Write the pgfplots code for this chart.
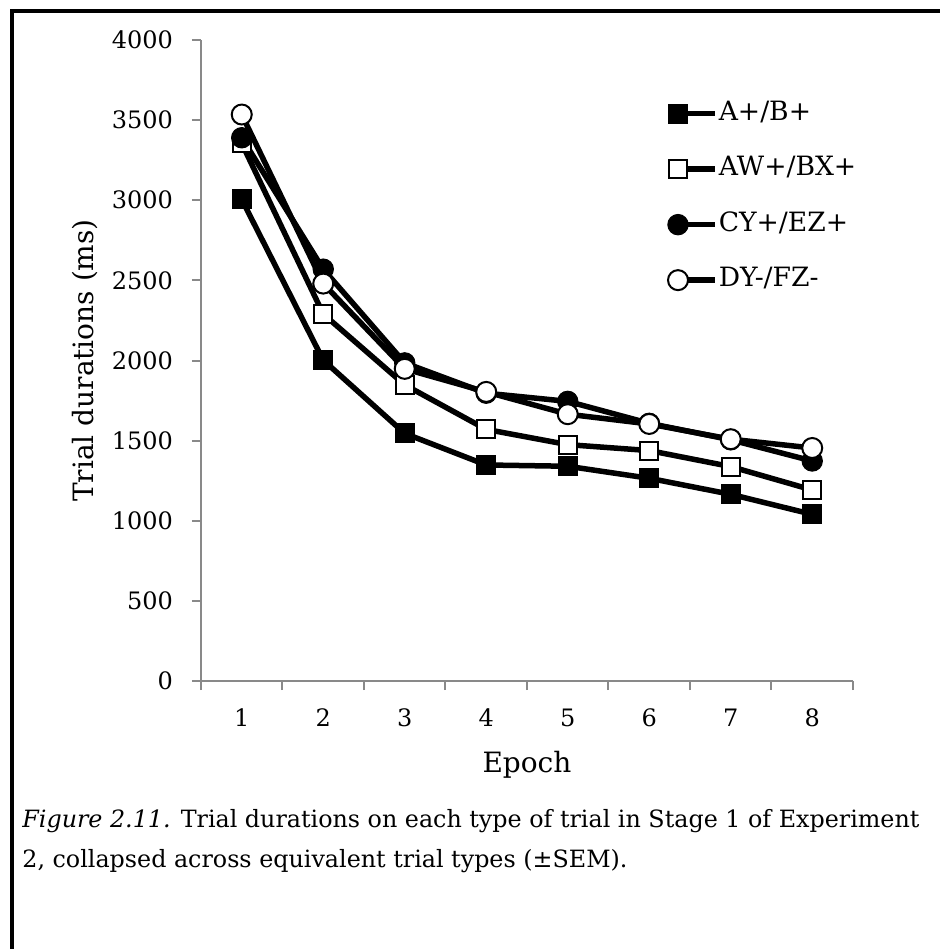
\documentclass[border=0pt]{standalone}
\usepackage{fontspec}
\setmainfont{DejaVu Serif}
\usepackage{pgfplots}
\pgfplotsset{compat=1.18}
\definecolor{axgray}{HTML}{898989}
\pgfplotstableread{
x  ab    awbx  cyez  dyfz
1  3005  3355  3390  3535
2  2002  2290  2570  2480
3  1545  1848  1985  1948
4  1348  1570  1796  1804
5  1340  1475  1745  1665
6  1265  1438  1608  1604
7  1165  1338  1505  1509
8  1040  1192  1373  1454
}\datatable
\begin{document}
\begin{tikzpicture}
\useasboundingbox (0pt,0pt) rectangle (470pt,474.5pt);
\draw[line width=2pt, line join=miter] (6pt,0pt) -- (6pt,468.75pt) -- (470pt,468.75pt);
\begin{axis}[
  at={(100.5pt,134pt)}, anchor=south west,
  scale only axis, width=326pt, height=320.5pt,
  xmin=0.5, xmax=8.5, ymin=0, ymax=4000,
  axis x line*=bottom, axis y line*=left,
  axis line style={axgray, line width=1pt},
  xtick={1,...,8}, ytick={0,500,...,4000},
  tick align=outside, major tick length=4.5pt,
  xtick style={draw=none},
  ytick style={draw=axgray, line width=1pt},
  extra x ticks={0.5,1.5,...,8.5}, extra x tick labels={},
  extra x tick style={xtick style={draw=axgray, line width=1pt}},
  /pgf/number format/assume math mode=true,
  /pgf/number format/1000 sep={},
  scaled y ticks=false,
  ticklabel style={font=\fontsize{12}{14}\selectfont},
  yticklabel style={xshift=-6pt},
  xticklabel style={yshift=-6pt},
  xlabel={Epoch},
  xlabel style={at={(axis description cs:0.5,-0.131)}, anchor=center, font=\fontsize{14}{17}\selectfont},
  ylabel={Trial durations (ms)},
  ylabel style={at={(axis description cs:-0.178,0.5)}, anchor=center, rotate=0, font=\fontsize{14}{17}\selectfont},
  legend style={at={(axis description cs:0.716,0.905)}, anchor=north west, draw=none, fill=none,
    inner sep=0pt, outer sep=0pt, row sep=15pt, column sep=0.5pt,
    nodes={inner sep=0pt, text height=9.75pt, text depth=3pt, font=\fontsize{13.3}{15}\selectfont}},
  legend cell align=left,
  legend image code/.code={\draw[#1,mark=none] (0pt,0pt) -- (18.5pt,0pt); \draw[#1] plot coordinates {(0pt,0pt)};},
]
\addplot[black, line width=2.75pt, mark=square*, mark size=4.75pt, mark options={solid, fill=black, line width=0.5pt}] table[x=x,y=ab] {\datatable};
\addlegendentry{A+/B+}
\addplot[black, line width=2.75pt, mark=square*, mark size=4.5pt, mark options={solid, fill=white, draw=black, line width=1pt}] table[x=x,y=awbx] {\datatable};
\addlegendentry{AW+/BX+}
\addplot[black, line width=2.75pt, mark=*, mark size=5.1pt, mark options={solid, fill=black, line width=0.5pt}] table[x=x,y=cyez] {\datatable};
\addlegendentry{CY+/EZ+}
\addplot[black, line width=2.75pt, mark=*, mark size=5pt, mark options={solid, fill=white, draw=black, line width=1pt}] table[x=x,y=dyfz] {\datatable};
\addlegendentry{DY-/FZ-}
\end{axis}
\node[anchor=base west, inner sep=0pt, font=\fontsize{11.9}{14}\selectfont] at (11pt,60.5pt) {\textit{Figure 2.11.} Trial durations on each type of trial in Stage 1 of Experiment};
\node[anchor=base west, inner sep=0pt, font=\fontsize{11.9}{14}\selectfont] at (11pt,40.5pt) {2, collapsed across equivalent trial types (±SEM).};
\end{tikzpicture}
\end{document}
